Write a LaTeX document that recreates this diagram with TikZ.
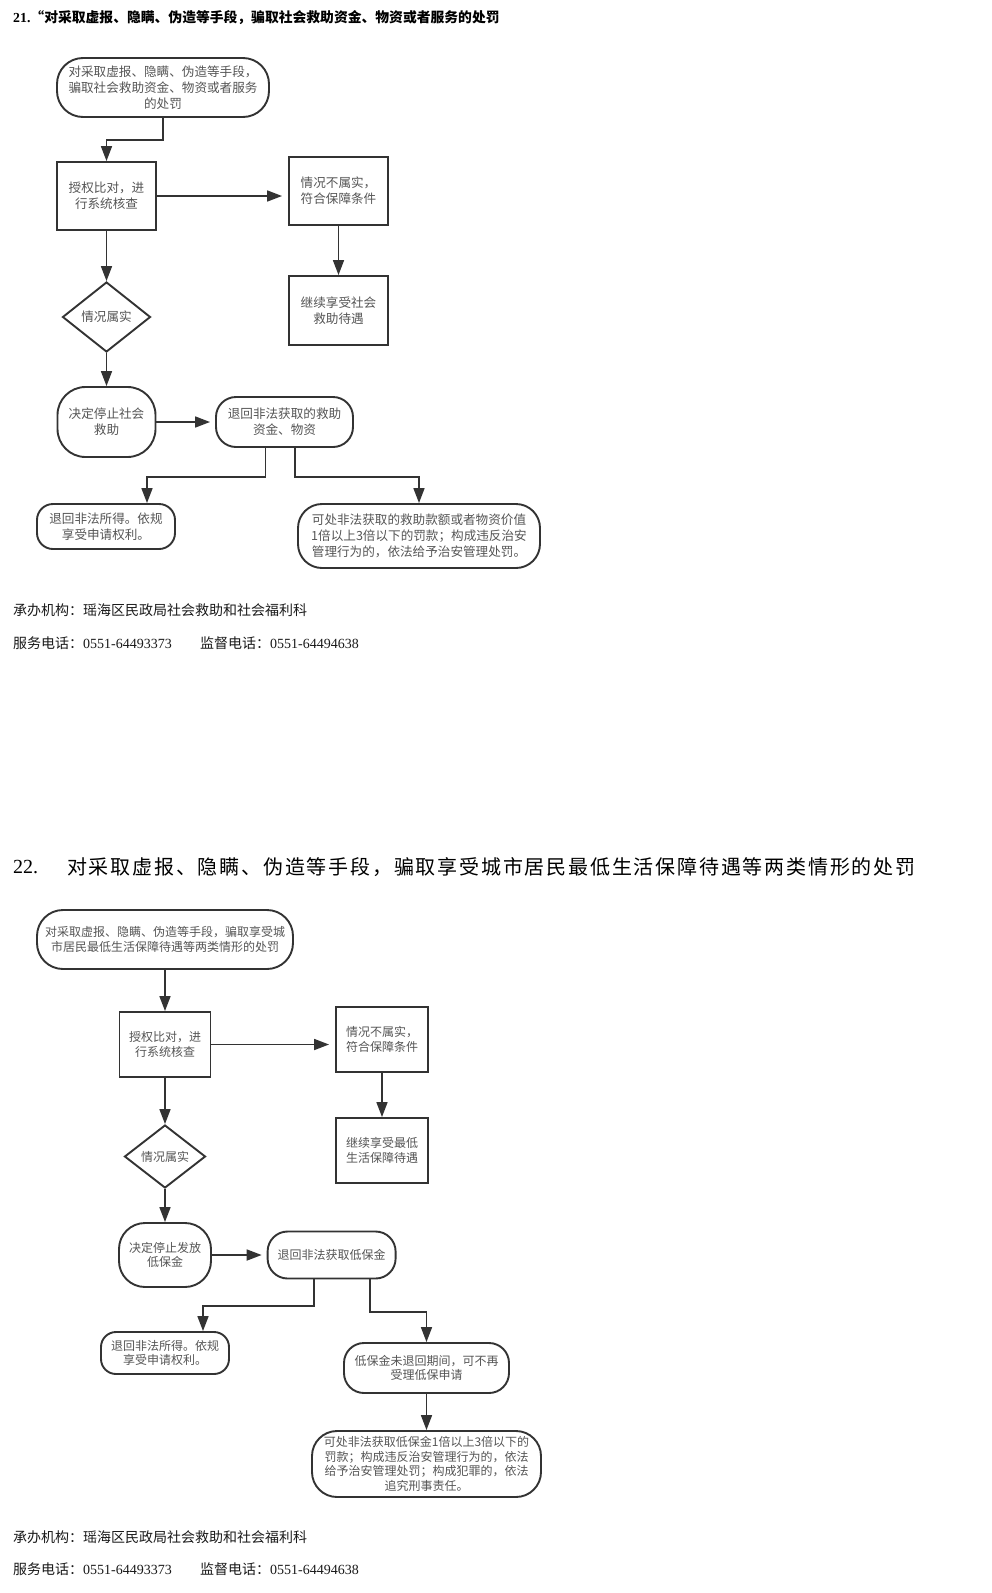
\documentclass[tikz,border=0pt]{standalone}
\usepackage{fontspec}
\setmainfont{Noto Sans CJK SC}
\newfontfamily\serif{Liberation Serif}
\newfontfamily\titlefont[LetterSpace=9]{Noto Sans CJK SC}
\usetikzlibrary{arrows.meta,shapes.geometric}
\definecolor{bd}{HTML}{333333}
\definecolor{tx}{HTML}{555555}
\definecolor{ft}{HTML}{1A1A1A}
\tikzset{
  shp/.style={draw=bd, line width=1.9pt, fill=white, text=tx, align=center, inner sep=0pt},
  fa/.style={font=\fontsize{12.6}{16}\selectfont},
  fb/.style={font=\fontsize{12}{14.7}\selectfont},
  arr/.style={draw=bd, line width=1.7pt, -{Triangle[length=15pt,width=11pt]}},
  foot/.style={text=ft, font=\fontsize{14}{16}\selectfont, anchor=west, inner sep=0pt}
}
\begin{document}
\begin{tikzpicture}[x=1pt,y=-1pt]
\useasboundingbox (0,0) rectangle (991,1593);
\fill[white] (0,0) rectangle (991,1593);

% ---------- titles ----------
\node[anchor=west, inner sep=0pt, font=\fontsize{13.8}{15}\selectfont\bfseries] (t1) at (13,18)
  {{\serif 21.}“对采取虚报、隐瞒、伪造等手段，骗取社会救助资金、物资或者服务的处罚};
\node[anchor=west, inner sep=0pt, font=\serif\fontsize{20}{22}\selectfont] (t2n) at (13,867) {22.};
\node[anchor=west, inner sep=0pt, font=\titlefont\fontsize{20}{22}\selectfont] (t2) at (67,867)
  {对采取虚报、隐瞒、伪造等手段，骗取享受城市居民最低生活保障待遇等两类情形的处罚};

% ---------- diagram 1 ----------
\node[shp, fa, rounded corners=26pt, minimum width=212pt, minimum height=59pt] (s1) at (163,87.5)
  {对采取虚报、隐瞒、伪造等手段，\\骗取社会救助资金、物资或者服务\\的处罚};
\node[shp, fa, minimum width=99pt, minimum height=68pt] (b1) at (106.5,196) {授权比对，进\\行系统核查};
\node[shp, fa, minimum width=99pt, minimum height=68pt] (r1) at (338.5,191) {情况不属实，\\符合保障条件};
\node[shp, fa, minimum width=99pt, minimum height=69pt] (r2) at (338.5,310.5) {继续享受社会\\救助待遇};
\node[shp, fa, diamond, minimum width=88pt, minimum height=70pt] (dm1) at (106.5,317) {情况属实};
\node[shp, fa, rounded corners=28pt, minimum width=98pt, minimum height=70pt] (d1) at (106.5,422) {决定停止社会\\救助};
\node[shp, fa, rounded corners=20pt, minimum width=137pt, minimum height=50pt] (d2) at (284.5,422) {退回非法获取的救助\\资金、物资};
\node[shp, fa, rounded corners=16pt, minimum width=138pt, minimum height=45pt] (e1) at (106,526.5) {退回非法所得。依规\\享受申请权利。};
\node[shp, fa, rounded corners=24pt, minimum width=242pt, minimum height=64pt] (e2) at (419,536)
  {可处非法获取的救助款额或者物资价值\\1倍以上3倍以下的罚款；构成违反治安\\管理行为的，依法给予治安管理处罚。};

\draw[arr] (s1.south) -- ++(0,22) -| (b1.north);
\draw[arr, shorten >=6pt] (b1.east) -- (b1.east -| r1.west);
\draw[arr] (r1.south) -- (r2.north);
\draw[arr] (b1.south) -- (dm1.north);
\draw[arr] (dm1.south) -- (d1.north);
\draw[arr, shorten >=5pt] (d1.east) -- (d2.west);
\draw[arr] ([xshift=-19pt]d2.south) -- ++(0,29) -| ([xshift=41pt]e1.north);
\draw[arr] ([xshift=10.5pt]d2.south) -- ++(0,29) -| (e2.north);

% ---------- footer 1 ----------
\node[foot] (f1a) at (13,610) {承办机构：瑶海区民政局社会救助和社会福利科};
\node[foot] (f1b) at (13,643) {服务电话：{\serif 0551-64493373}};
\node[foot] (f1c) at (200,643) {监督电话：{\serif 0551-64494638}};

% ---------- diagram 2 ----------
\node[shp, fb, rounded corners=26pt, minimum width=256pt, minimum height=59pt] (s2) at (165,939.5)
  {对采取虚报、隐瞒、伪造等手段，骗取享受城\\市居民最低生活保障待遇等两类情形的处罚};
\node[shp, fb, minimum width=91pt, minimum height=65pt] (b2) at (165,1044.5) {授权比对，进\\行系统核查};
\node[shp, fb, minimum width=92pt, minimum height=65pt] (r3) at (382,1039.5) {情况不属实，\\符合保障条件};
\node[shp, fb, minimum width=92pt, minimum height=65pt] (r4) at (382,1150.5) {继续享受最低\\生活保障待遇};
\node[shp, fb, diamond, minimum width=81pt, minimum height=63pt] (dm2) at (165,1156.5) {情况属实};
\node[shp, fb, rounded corners=26pt, minimum width=92pt, minimum height=64pt] (d3) at (165,1255) {决定停止发放\\低保金};
\node[shp, fb, rounded corners=20pt, minimum width=128pt, minimum height=47pt] (d4) at (331.6,1255) {退回非法获取低保金};
\node[shp, fb, rounded corners=15pt, minimum width=128pt, minimum height=42pt] (e3) at (165,1353) {退回非法所得。依规\\享受申请权利。};
\node[shp, fb, rounded corners=20pt, minimum width=165pt, minimum height=50pt] (g0) at (426.5,1368) {低保金未退回期间，可不再\\受理低保申请};
\node[shp, fb, rounded corners=25pt, minimum width=229pt, minimum height=66pt] (g1) at (426.5,1464)
  {可处非法获取低保金1倍以上3倍以下的\\罚款；构成违反治安管理行为的，依法\\给予治安管理处罚；构成犯罪的，依法\\追究刑事责任。};

\draw[arr] (s2.south) -- (b2.north);
\draw[arr, shorten >=6pt] (b2.east) -- (b2.east -| r3.west);
\draw[arr] (r3.south) -- (r4.north);
\draw[arr] (b2.south) -- (dm2.north);
\draw[arr] (dm2.south) -- (d3.north);
\draw[arr, shorten >=5pt] (d3.east) -- (d4.west);
\draw[arr] ([xshift=-17.6pt]d4.south) -- ++(0,26.5) -| ([xshift=38pt]e3.north);
\draw[arr] ([xshift=38.4pt]d4.south) -- ++(0,32.5) -| (g0.north);
\draw[arr] (g0.south) -- (g1.north);

% ---------- footer 2 ----------
\node[foot] (f2a) at (13,1537) {承办机构：瑶海区民政局社会救助和社会福利科};
\node[foot] (f2b) at (13,1569) {服务电话：{\serif 0551-64493373}};
\node[foot] (f2c) at (200,1569) {监督电话：{\serif 0551-64494638}};
\end{tikzpicture}
\end{document}
